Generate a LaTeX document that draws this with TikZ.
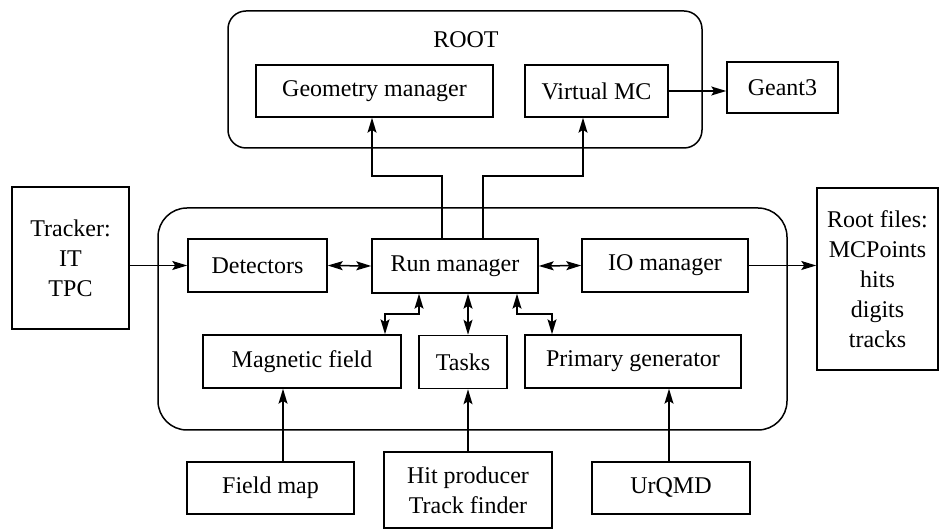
\documentclass[tikz,border=0pt]{standalone}
\usepackage{fontspec}
\setmainfont{Liberation Serif}
\usetikzlibrary{arrows.meta}
\begin{document}
\begin{tikzpicture}[x=0.5pt,y=-0.5pt,
  every node/.style={font=\fontsize{12}{15}\selectfont},
  blk/.style={draw,line width=0.75pt,inner sep=0pt,align=center},
  frm/.style={draw,line width=0.75pt,inner sep=0pt},
  sz/.style 2 args={minimum width=#1*0.5pt,minimum height=#2*0.5pt},
  arr/.style={line width=0.75pt,-{Stealth[length=7.5pt,width=4.5pt,inset=1.5pt]}},
  darr/.style={line width=0.75pt,{Stealth[length=7.5pt,width=4.5pt,inset=1.5pt]}-{Stealth[length=7.5pt,width=4.5pt,inset=1.5pt]}}]
\useasboundingbox (0,0) rectangle (944,529);
% containers
\node[frm,rounded corners=9pt,sz={474}{137}] (rootbox) at (465,79.5) {};
\node (rootlb) at (466,40) {ROOT};
\node[frm,rounded corners=14.5pt,sz={629}{222}] (frame) at (472.5,319) {};
% ROOT part
\node[blk,sz={237}{52}] (geo) at (374.5,91) {Geometry manager};
\node[blk,sz={143}{52}] (vmc) at (596.5,91) {Virtual MC};
\node[blk,sz={111}{51}] (geant) at (782.5,87.5) {Geant3};
% framework part
\node[blk,sz={117}{142}] (tracker) at (70.5,258) {Tracker:\\IT\\TPC};
\node[blk,sz={139}{53}] (det) at (257.5,265.5) {Detectors};
\node[blk,sz={166}{54}] (run) at (455,266) {Run manager};
\node[blk,sz={166}{53}] (io) at (665,265.5) {IO manager};
\node[blk,sz={121}{182}] (rfiles) at (877.5,279) {Root files:\\MCPoints\\hits\\digits\\tracks};
\node[blk,sz={198}{53}] (mag) at (302,361.5) {Magnetic field};
\node[blk,sz={88}{53}] (tasks) at (463,362) {Tasks};
\node[blk,sz={216}{53}] (prim) at (633,361.5) {Primary generator};
% inputs
\node[blk,sz={167}{52}] (fmap) at (270.5,488) {Field map};
\node[blk,sz={168}{76}] (hit) at (468,490) {Hit producer\\Track finder};
\node[blk,sz={158}{52}] (urqmd) at (671,488) {UrQMD};
% connectors
\coordinate (ga) at (372,176);
\coordinate (gb) at (442,176);
\coordinate (va) at (483,176);
\coordinate (vb) at (583,176);
\draw[arr] (run.north -| gb) -- (gb) -- (ga) -- (geo.south -| ga);
\draw[arr] (run.north -| va) -- (va) -- (vb) -- (vmc.south -| vb);
\draw[arr] (vmc.east) -- (vmc.east -| geant.west);
\draw[arr] (tracker.east |- det.west) -- (det.west);
\draw[darr] (det.east) -- (run.west);
\draw[darr] (run.east) -- (io.west);
\draw[arr] (io.east) -- (io.east -| rfiles.west);
\coordinate (ma) at (419,314);
\coordinate (mb) at (385,314);
\coordinate (tk) at (468,314);
\coordinate (pa) at (517,314);
\coordinate (pb) at (552,314);
\draw[darr] (run.south -| ma) -- (ma) -- (mb) -- (mag.north -| mb);
\draw[darr] (run.south -| tk) -- (tasks.north -| tk);
\draw[darr] (run.south -| pa) -- (pa) -- (pb) -- (prim.north -| pb);
\foreach \src/\dst/\kx in {fmap/mag/283,hit/tasks/468,urqmd/prim/669}{
  \coordinate (in) at (\kx,0);
  \draw[arr] (\src.north -| in) -- (\dst.south -| in);
}
\end{tikzpicture}
\end{document}
